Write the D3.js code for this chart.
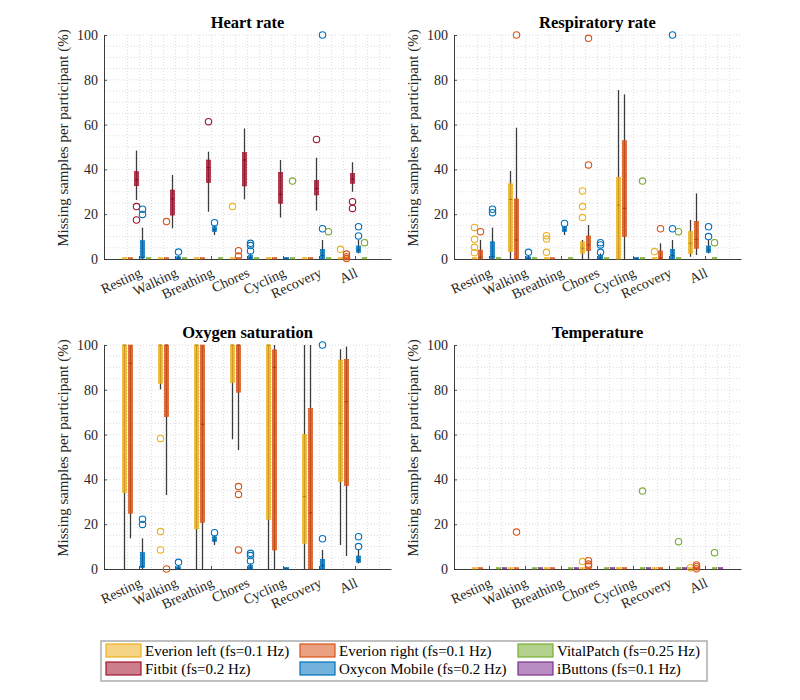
<!DOCTYPE html>
<html>
<head>
<meta charset="utf-8">
<script src="https://cdn.jsdelivr.net/npm/d3@7"></script>
<style>
  body { margin: 0; background: #fff; }
  svg { font-family: "Liberation Serif", "Times New Roman", serif; }
</style>
</head>
<body>
<div id="wrapper"></div>
<script>
// ---- data ----
const categories = ["Resting", "Walking", "Breathing", "Chores", "Cycling", "Recovery", "All"]
const slotOrder = ["EL", "ER", "FB", "OX", "VP", "IB"]
const deviceColors = { EL: "#EDB120", ER: "#D95319", FB: "#A2142F", OX: "#0072BD", VP: "#77AC30", IB: "#7E2F8E" }
const legendOrder = ["EL", "ER", "VP", "FB", "OX", "IB"]
const legendLabels = ["Everion left (fs=0.1 Hz)", "Everion right (fs=0.1 Hz)", "VitalPatch (fs=0.25 Hz)",
                      "Fitbit (fs=0.2 Hz)", "Oxycon Mobile (fs=0.2 Hz)", "iButtons (fs=0.1 Hz)"]
const panelTitles = ["Heart rate", "Respiratory rate", "Oxygen saturation", "Temperature"]
const yTicks = [0, 20, 40, 60, 80, 100]
const yLabel = "Missing samples per participant (%)"

// rows: [category, device, whiskerLow, q1, median, q3, whiskerHigh, outliers]
const heartRate = [
  ["Resting", "EL", 0, 0, 0, 0, 0, []],
  ["Resting", "ER", 0, 0, 0, 0, 0, []],
  ["Resting", "FB", 26.3, 32.7, 35.3, 39, 48.4, [23.4, 17.4]],
  ["Resting", "OX", 0, 0.4, 0.8, 8.2, 14, [22.2, 19.9]],
  ["Resting", "VP", 0, 0, 0, 0, 0, []],
  ["Walking", "EL", 0, 0, 0, 0, 0, []],
  ["Walking", "ER", 0, 0, 0, 0, 0, [16.7]],
  ["Walking", "FB", 13.7, 19.6, 26.8, 30.8, 37.5, []],
  ["Walking", "OX", 0, 0, 0.3, 1, 1.5, [3.1]],
  ["Walking", "VP", 0, 0, 0, 0, 0, []],
  ["Breathing", "EL", 0, 0, 0, 0, 0, []],
  ["Breathing", "ER", 0, 0, 0, 0, 0, []],
  ["Breathing", "FB", 21.1, 34.1, 40.8, 44.2, 47.9, [61.3]],
  ["Breathing", "OX", 10.7, 12.2, 13, 14.4, 14.8, [16.2]],
  ["Breathing", "VP", 0, 0, 0, 0, 0, []],
  ["Chores", "EL", 0, 0, 0, 0, 0, [23.4]],
  ["Chores", "ER", 0, 0, 0, 0, 0, [3.7, 1.3]],
  ["Chores", "FB", 26.6, 32.6, 44.2, 47.5, 58.3, []],
  ["Chores", "OX", 0, 0, 0.5, 1.5, 2.5, [7.0, 6.0, 3.6]],
  ["Chores", "VP", 0, 0, 0, 0, 0, []],
  ["Cycling", "EL", 0, 0, 0, 0, 0, []],
  ["Cycling", "ER", 0, 0, 0, 0, 0, []],
  ["Cycling", "FB", 18.5, 24.9, 28.9, 38.7, 44.2, []],
  ["Cycling", "OX", 0, 0, 0, 0.3, 0.7, []],
  ["Cycling", "VP", 0, 0, 0, 0, 0, [34.8]],
  ["Recovery", "EL", 0, 0, 0, 0, 0, []],
  ["Recovery", "ER", 0, 0, 0, 0, 0, []],
  ["Recovery", "FB", 21.6, 28.6, 31.5, 35.1, 45.2, [53.4]],
  ["Recovery", "OX", 0, 0, 1.5, 4.3, 8.5, [100, 13.5]],
  ["Recovery", "VP", 0, 0, 0, 0, 0, [12.2]],
  ["All", "EL", 0, 0, 0, 0, 0, [4.3]],
  ["All", "ER", 0, 0, 0, 0, 0, [2.2, 1.0, 0.2]],
  ["All", "FB", 30, 33.8, 35.7, 38.2, 43.2, [25.6, 22.6]],
  ["All", "OX", 2.5, 3.0, 4, 5.8, 8.5, [14.4, 10.3]],
  ["All", "VP", 0, 0, 0, 0, 0, [7.3]]
]

const respiratoryRate = [
  ["Resting", "EL", 0, 0, 0, 0, 0, [14.1, 8.8, 5.2, 2.8]],
  ["Resting", "ER", 0, 0, 0.8, 4.0, 8.5, [12.2]],
  ["Resting", "OX", 0, 0.3, 1, 7.7, 14.0, [22.2, 20.7]],
  ["Resting", "VP", 0, 0, 0, 0, 0, []],
  ["Walking", "EL", 0, 3.3, 26.6, 33.6, 39.3, []],
  ["Walking", "ER", 0, 0, 8.5, 26.8, 58.6, [100]],
  ["Walking", "OX", 0, 0, 0.3, 1, 1.5, [3.0]],
  ["Walking", "VP", 0, 0, 0, 0, 0, []],
  ["Breathing", "EL", 0, 0, 0, 0, 0, [10.4, 8.9, 3.0]],
  ["Breathing", "ER", 0, 0, 0, 0, 0, []],
  ["Breathing", "OX", 10.7, 12.2, 13, 14.4, 14.8, [15.9]],
  ["Breathing", "VP", 0, 0, 0, 0, 0, []],
  ["Chores", "EL", 0, 2.5, 4.8, 7.7, 8.5, [30.4, 23.4, 18.5]],
  ["Chores", "ER", 0, 3.7, 6.3, 10.3, 15.2, [98.5, 42]],
  ["Chores", "OX", 0, 0, 0.5, 1.5, 2.5, [7.3, 6.3, 3.0]],
  ["Chores", "VP", 0, 0, 0, 0, 0, []],
  ["Cycling", "EL", 0, 0, 24, 36.5, 75.4, []],
  ["Cycling", "ER", 0, 10.0, 22.6, 52.8, 73.5, []],
  ["Cycling", "OX", 0, 0, 0, 0.3, 0.7, []],
  ["Cycling", "VP", 0, 0, 0, 0, 0, [34.8]],
  ["Recovery", "EL", 0, 0, 0, 0, 0, [3.3]],
  ["Recovery", "ER", 0, 0, 0.5, 3.6, 7.0, [13.5]],
  ["Recovery", "OX", 0, 0, 1.5, 4.3, 8.5, [100, 13.5]],
  ["Recovery", "VP", 0, 0, 0, 0, 0, [12.2]],
  ["All", "EL", 1, 2.5, 7.0, 12.2, 17.4, []],
  ["All", "ER", 1.8, 4.8, 8.8, 16.7, 29.3, []],
  ["All", "OX", 2.5, 3.0, 4, 5.8, 8.5, [14.4, 10]],
  ["All", "VP", 0, 0, 0, 0, 0, [7.3]]
]

const oxygenSaturation = [
  ["Resting", "EL", 0, 34.1, 100, 100, 100, []],
  ["Resting", "ER", 13.7, 24.9, 91.8, 100, 100, []],
  ["Resting", "OX", 0, 0.7, 1, 7.3, 13.7, [22.2, 19.9]],
  ["Walking", "EL", 80.2, 82.9, 100, 100, 100, [58.3, 16.7, 8.5]],
  ["Walking", "ER", 33, 68, 100, 100, 100, [0]],
  ["Walking", "OX", 0, 0, 0.3, 1, 1.5, [3.0]],
  ["Breathing", "EL", 0, 17.9, 100, 100, 100, []],
  ["Breathing", "ER", 0, 20.8, 64.6, 100, 100, []],
  ["Breathing", "OX", 10.7, 12.2, 13, 14.4, 14.8, [16.2]],
  ["Chores", "EL", 57.9, 83.2, 100, 100, 100, []],
  ["Chores", "ER", 53.1, 78.9, 100, 100, 100, [36.8, 33.3, 8.5]],
  ["Chores", "OX", 0, 0, 0.5, 1.5, 2.5, [7.0, 6.0, 3.6]],
  ["Cycling", "EL", 0, 22.2, 100, 100, 100, []],
  ["Cycling", "ER", 0, 8.5, 90, 97.8, 100, []],
  ["Cycling", "OX", 0, 0, 0, 0.3, 0.7, []],
  ["Recovery", "EL", 0, 11.5, 32.3, 60.1, 100, []],
  ["Recovery", "ER", 0, 0, 25.1, 71.7, 100, []],
  ["Recovery", "OX", 0, 0, 1.5, 4.3, 8.5, [100, 13.5]],
  ["All", "EL", 10.7, 39, 65, 93.3, 98.1, []],
  ["All", "ER", 5.8, 37.2, 74.7, 93.6, 99.3, []],
  ["All", "OX", 2.5, 3.0, 4, 5.8, 8.5, [14.4, 10]]
]

const temperature = [
  ["Resting", "EL", 0, 0, 0, 0, 0, []],
  ["Resting", "ER", 0, 0, 0, 0, 0, []],
  ["Resting", "VP", 0, 0, 0, 0, 0, []],
  ["Resting", "IB", 0, 0, 0, 0, 0, []],
  ["Walking", "EL", 0, 0, 0, 0, 0, []],
  ["Walking", "ER", 0, 0, 0, 0, 0, [16.5]],
  ["Walking", "VP", 0, 0, 0, 0, 0, []],
  ["Walking", "IB", 0, 0, 0, 0, 0, []],
  ["Breathing", "EL", 0, 0, 0, 0, 0, []],
  ["Breathing", "ER", 0, 0, 0, 0, 0, []],
  ["Breathing", "VP", 0, 0, 0, 0, 0, []],
  ["Breathing", "IB", 0, 0, 0, 0, 0, []],
  ["Chores", "EL", 0, 0, 0, 0, 0, [3.3]],
  ["Chores", "ER", 0, 0, 0, 0, 0, [3.7, 2.2, 1.3]],
  ["Chores", "VP", 0, 0, 0, 0, 0, []],
  ["Chores", "IB", 0, 0, 0, 0, 0, []],
  ["Cycling", "EL", 0, 0, 0, 0, 0, []],
  ["Cycling", "ER", 0, 0, 0, 0, 0, []],
  ["Cycling", "VP", 0, 0, 0, 0, 0, [34.8]],
  ["Cycling", "IB", 0, 0, 0, 0, 0, []],
  ["Recovery", "EL", 0, 0, 0, 0, 0, []],
  ["Recovery", "ER", 0, 0, 0, 0, 0, []],
  ["Recovery", "VP", 0, 0, 0, 0, 0, [12.2]],
  ["Recovery", "IB", 0, 0, 0, 0, 0, []],
  ["All", "EL", 0, 0, 0, 0, 0, [0.6]],
  ["All", "ER", 0, 0, 0, 0, 0, [1.8, 1.0, 0.1]],
  ["All", "VP", 0, 0, 0, 0, 0, [7.3]],
  ["All", "IB", 0, 0, 0, 0, 0, []]
]

const panelData = [heartRate, respiratoryRate, oxygenSaturation, temperature]

// ---- layout ----
const width = 800
const height = 700
const panelW = 287
const panelH = 224
const panelPos = [
  { x: 104, y: 35 }, { x: 454, y: 35 },
  { x: 104, y: 345 }, { x: 454, y: 345 }
]
const textColor = "#262626"

const svg = d3.select("#wrapper")
  .append("svg")
    .attr("width", width)
    .attr("height", height)

const xScale = d3.scaleBand()
  .domain(categories)
  .range([0, panelW])
  .paddingInner(0)
  .paddingOuter(0.486)

const slotScale = d3.scaleBand()
  .domain(slotOrder)
  .range([0, xScale.bandwidth()])

const yScale = d3.scaleLinear()
  .domain([0, 100])
  .range([panelH, 0])

const slotX = (cat, dev) => xScale(cat) + slotScale(dev) + slotScale.bandwidth() / 2
const boxW = 4.4

function drawPanel(i) {
  const pos = panelPos[i]
  const rows = panelData[i].map(r => ({
    cat: r[0], dev: r[1], lo: r[2], q1: r[3], med: r[4], q3: r[5], hi: r[6], out: r[7]
  }))

  const bounds = svg.append("g")
    .attr("transform", `translate(${pos.x},${pos.y})`)

  // dotted grid
  const grid = bounds.append("g")
  const hLines = d3.range(5, 101, 5)
  grid.selectAll(".hgrid").data(hLines).join("line")
    .attr("x1", 0).attr("x2", panelW)
    .attr("y1", d => yScale(d)).attr("y2", d => yScale(d))
    .attr("stroke", "#c4c4c4").attr("stroke-width", 0.6)
    .attr("stroke-dasharray", "1,2")
  const vLines = []
  categories.forEach(c => {
    [1 / 6, 1 / 2, 5 / 6].forEach(f => vLines.push(xScale(c) + xScale.bandwidth() * f))
  })
  vLines.push(xScale("All") + xScale.bandwidth() * 7 / 6)
  grid.selectAll(".vgrid").data(vLines.filter(v => v < panelW)).join("line")
    .attr("x1", d => d).attr("x2", d => d)
    .attr("y1", 0).attr("y2", panelH)
    .attr("stroke", "#c4c4c4").attr("stroke-width", 0.6)
    .attr("stroke-dasharray", "1,2")

  // axes
  const yAxis = bounds.append("g")
    .call(d3.axisLeft(yScale).tickValues(yTicks).tickSizeInner(-3).tickSizeOuter(0).tickPadding(6))
  const xAxis = bounds.append("g")
    .attr("transform", `translate(0,${panelH})`)
    .call(d3.axisBottom(xScale).tickSizeInner(-3).tickSizeOuter(0))
  ;[xAxis, yAxis].forEach(a => {
    a.select(".domain").attr("stroke", textColor).attr("stroke-width", 0.9)
    a.selectAll(".tick line").attr("stroke", textColor).attr("stroke-width", 0.8)
    a.selectAll("text").attr("fill", textColor).style("font-size", "14px")
      .style("font-family", '"Liberation Serif", serif')
  })
  xAxis.selectAll(".tick text")
    .attr("y", 0).attr("dy", 0)
    .attr("text-anchor", "end")
    .attr("transform", "translate(3,17) rotate(-25)")

  // whiskers
  bounds.selectAll(".whisker").data(rows.filter(d => d.hi > d.lo)).join("line")
    .attr("x1", d => slotX(d.cat, d.dev)).attr("x2", d => slotX(d.cat, d.dev))
    .attr("y1", d => yScale(d.lo)).attr("y2", d => yScale(d.hi))
    .attr("stroke", "#3c3c3c").attr("stroke-width", 1.3)

  // boxes
  bounds.selectAll(".box").data(rows).join("rect")
    .attr("x", d => slotX(d.cat, d.dev) - boxW / 2)
    .attr("width", boxW)
    .attr("y", d => Math.min(yScale(d.q3), panelH - 1.3))
    .attr("height", d => Math.max(yScale(d.q1) - yScale(d.q3), 1.3))
    .attr("fill", d => deviceColors[d.dev])
    .attr("fill-opacity", 0.82)
    .attr("stroke", d => deviceColors[d.dev])
    .attr("stroke-width", 0.6)

  // medians
  bounds.selectAll(".median").data(rows.filter(d => d.q3 > d.q1)).join("line")
    .attr("x1", d => slotX(d.cat, d.dev) - boxW / 2 + 0.6)
    .attr("x2", d => slotX(d.cat, d.dev) + boxW / 2 - 0.6)
    .attr("y1", d => yScale(d.med)).attr("y2", d => yScale(d.med))
    .attr("stroke", d => d3.color(deviceColors[d.dev]).darker(0.9))
    .attr("stroke-width", 1)

  // outliers
  const outs = rows.flatMap(d => d.out.map(v => ({ cat: d.cat, dev: d.dev, v })))
  bounds.selectAll(".outlier").data(outs).join("circle")
    .attr("cx", d => slotX(d.cat, d.dev))
    .attr("cy", d => yScale(d.v))
    .attr("r", 3.2)
    .attr("fill", "none")
    .attr("stroke", d => deviceColors[d.dev])
    .attr("stroke-width", 1.1)

  // title and y label
  bounds.append("text")
    .attr("x", panelW / 2).attr("y", -7)
    .attr("text-anchor", "middle")
    .style("font-size", "16.5px").style("font-weight", "bold")
    .attr("fill", "#000")
    .text(panelTitles[i])
  bounds.append("text")
    .attr("transform", `translate(-36,103) rotate(-90)`)
    .attr("text-anchor", "middle")
    .style("font-size", "15px")
    .attr("fill", textColor)
    .text(yLabel)
}

panelTitles.forEach((t, i) => drawPanel(i))

// legend
const legend = svg.append("g")
legend.append("rect")
  .attr("x", 101).attr("y", 641)
  .attr("width", 606).attr("height", 40)
  .attr("fill", "#fff").attr("stroke", "#a6a6a6").attr("stroke-width", 1.4)
const colX = [106, 300, 518]
const rowY = [644, 662]
legendOrder.forEach((dev, k) => {
  const cx = colX[k % 3]
  const ry = rowY[Math.floor(k / 3)]
  legend.append("rect")
    .attr("x", cx).attr("y", ry)
    .attr("width", 35).attr("height", 13)
    .attr("fill", deviceColors[dev]).attr("fill-opacity", 0.55)
    .attr("stroke", deviceColors[dev]).attr("stroke-width", 1.2)
  legend.append("text")
    .attr("x", cx + 39).attr("y", ry + 12)
    .style("font-size", "15px")
    .attr("fill", "#000")
    .text(legendLabels[k])
})
</script>
</body>
</html>
